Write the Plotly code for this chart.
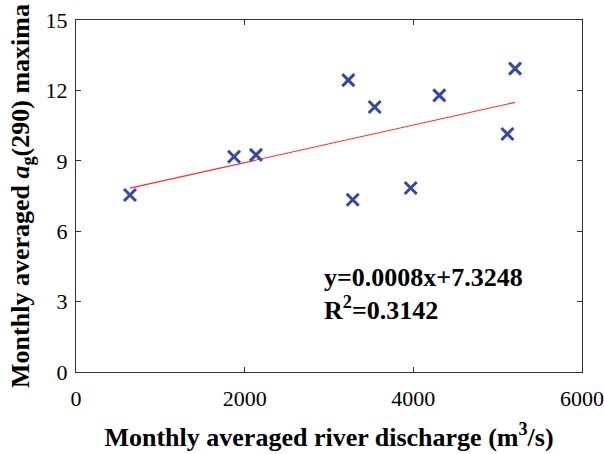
import plotly.graph_objects as go

discharge = [640, 1874, 2134, 3229, 3281, 3542, 3969, 4308, 5115, 5206]
ag_maxima = [7.54, 9.17, 9.25, 12.44, 7.34, 11.29, 7.84, 11.79, 10.14, 12.93]
fit_slope = 0.0008
fit_intercept = 7.3248
x_ticks = [0, 2000, 4000, 6000]
y_ticks = [0, 3, 6, 9, 12, 15]
equation_text = "y=0.0008x+7.3248"
r2_text = "R<sup>2</sup>=0.3142"

fit_x = [min(discharge), max(discharge)]
fit_y = [fit_slope * v + fit_intercept for v in fit_x]

font_family = "Liberation Serif, Times New Roman, serif"

fig = go.Figure()
fig.add_trace(go.Scatter(x=fit_x, y=fit_y, mode="lines",
                         line=dict(color="#ff2a2a", width=1.2), showlegend=False))
fig.add_trace(go.Scatter(x=discharge, y=ag_maxima, mode="markers",
                         marker=dict(symbol="x-thin-open", size=12, color="#3548a4",
                                     line=dict(width=3, color="#3548a4")),
                         showlegend=False))

fig.add_annotation(x=2913, y=4.02, xref="x", yref="y", text="<b>" + equation_text + "</b>",
                   showarrow=False, xanchor="left", yanchor="middle",
                   font=dict(family=font_family, size=26, color="black"))
fig.add_annotation(x=2913, y=2.70, xref="x", yref="y", text="<b>" + r2_text + "</b>",
                   showarrow=False, xanchor="left", yanchor="middle",
                   font=dict(family=font_family, size=26, color="black"))

axis_common = dict(showgrid=False, zeroline=False, showline=True, linecolor="#333333",
                   linewidth=1.3, mirror="ticks", ticks="inside", ticklen=5,
                   tickcolor="#333333", tickwidth=1.3,
                   tickfont=dict(family=font_family, size=22, color="black"))

fig.update_xaxes(range=[0, 6000], tickvals=x_ticks, ticktext=[str(v) for v in x_ticks],
                 ticklabelstandoff=6,
                 title=dict(text="<b>Monthly averaged river discharge (m<sup>3</sup>/s)</b>",
                            font=dict(family=font_family, size=26, color="black"), standoff=18),
                 **axis_common)
fig.update_yaxes(range=[0, 15], tickvals=y_ticks, ticktext=[str(v) for v in y_ticks],
                 ticklabelstandoff=3,
                 title=dict(text="<b>Monthly averaged <i>a</i><sub>g</sub>(290) maxima</b>",
                            font=dict(family=font_family, size=26, color="black"), standoff=8),
                 **axis_common)

fig.update_layout(width=604, height=454, margin=dict(l=76, r=22, t=20, b=82, autoexpand=False),
                  paper_bgcolor="white", plot_bgcolor="white")

fig.write_html("out.html", post_script="document.body.style.margin='0px';",
               config={"displayModeBar": False})
